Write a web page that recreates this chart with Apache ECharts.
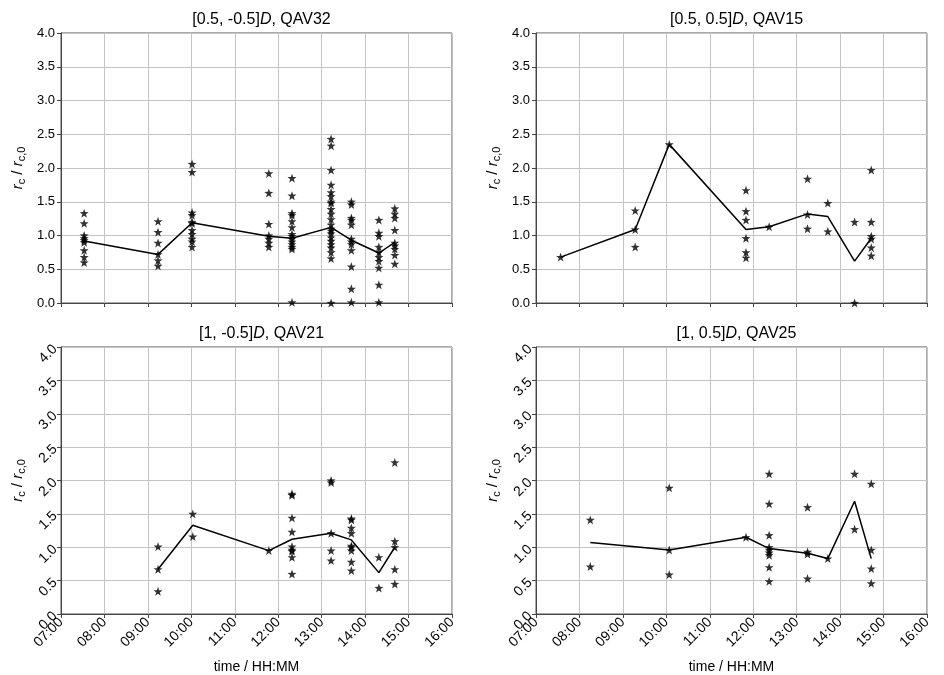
<!DOCTYPE html>
<html>
<head>
<meta charset="utf-8">
<script src="https://cdn.jsdelivr.net/npm/echarts@6/dist/echarts.min.js"></script>
<style>
  html, body { margin: 0; padding: 0; background: #fff; }
  #chart { width: 944px; height: 675px; }
</style>
</head>
<body>
<div id="chart"></div>
<script>
// hour ticks on the time axis
const hourTicks = ['07:00', '08:00', '09:00', '10:00', '11:00', '12:00', '13:00', '14:00', '15:00', '16:00']
const yTicks = [0, 0.5, 1, 1.5, 2, 2.5, 3, 3.5, 4]

// [0.5, -0.5]D, QAV32
const qav32Times = ['07:32', '09:14', '10:01', '11:47', '12:19', '13:13', '13:41', '14:19', '14:41']
const qav32Points = [
  [1.33, 1.18, 1.00, 0.96, 0.93, 0.90, 0.78, 0.68, 0.60],
  [1.21, 1.05, 0.89, 0.72, 0.63, 0.55],
  [2.06, 1.94, 1.34, 1.30, 1.20, 1.18, 1.08, 1.02, 0.95, 0.91, 0.83],
  [1.92, 1.63, 1.17, 1.00, 0.95, 0.89, 0.83],
  [1.85, 1.59, 1.33, 1.30, 1.21, 1.12, 1.02, 0.99, 0.95, 0.91, 0.87, 0.83, 0.80, 0.01],
  [2.43, 2.33, 1.97, 1.75, 1.64, 1.58, 1.50, 1.48, 1.39, 1.32, 1.24, 1.16, 1.10, 1.07, 1.03, 0.97, 0.92, 0.87, 0.82, 0.75, 0.66, 0.0],
  [1.50, 1.46, 1.26, 1.23, 1.16, 0.95, 0.91, 0.87, 0.78, 0.54, 0.21, 0.01],
  [1.23, 1.04, 0.99, 0.83, 0.75, 0.68, 0.62, 0.52, 0.27, 0.01],
  [1.40, 1.32, 1.26, 1.08, 0.89, 0.85, 0.80, 0.71, 0.58]
]
const qav32Line = [0.92, 0.72, 1.19, 0.99, 0.96, 1.12, 0.93, 0.74, 0.90]

// [0.5, 0.5]D, QAV15
const qav15Times = ['07:34', '09:17', '10:04', '11:50', '12:22', '13:15', '13:43', '14:20', '14:43']
const qav15Points = [
  [0.68],
  [1.37, 1.09, 0.83],
  [2.35],
  [1.67, 1.36, 1.23, 0.96, 0.75, 0.67],
  [1.13],
  [1.84, 1.31, 1.10],
  [1.48, 1.06],
  [1.20, 0.0],
  [1.97, 1.20, 0.99, 0.95, 0.82, 0.70]
]
const qav15Line = [0.68, 1.09, 2.35, 1.09, 1.13, 1.32, 1.28, 0.62, 0.96]

// [1, -0.5]D, QAV21
const qav21Times = ['09:14', '10:02', '11:47', '12:19', '13:13', '13:41', '14:19', '14:41']
const qav21Points = [
  [1.01, 0.67, 0.34],
  [1.50, 1.16],
  [0.95],
  [1.80, 1.78, 1.44, 1.23, 1.01, 0.96, 0.94, 0.85, 0.60],
  [2.00, 1.97, 1.21, 0.95, 0.80],
  [1.43, 1.41, 1.29, 1.21, 1.02, 1.00, 0.95, 0.78, 0.65],
  [0.85, 0.39],
  [2.27, 1.09, 1.00, 0.67, 0.45]
]
const qav21Line = [0.67, 1.33, 0.95, 1.12, 1.21, 1.11, 0.62, 1.00]

// [1, 0.5]D, QAV25
const qav25Times = ['08:15', '10:04', '11:50', '12:22', '13:15', '13:43', '14:20', '14:43']
const qav25Points = [
  [1.41, 0.71],
  [1.89, 0.96, 0.59],
  [1.15],
  [2.10, 1.65, 1.18, 1.00, 0.96, 0.92, 0.88, 0.70, 0.49],
  [1.60, 0.93, 0.90, 0.53],
  [0.83],
  [2.10, 1.27],
  [1.95, 0.96, 0.68, 0.46]
]
const qav25Line = [1.07, 0.96, 1.15, 0.98, 0.91, 0.83, 1.69, 0.83]

const titles = [
  ['[0.5, -0.5]', ', QAV32'],
  ['[0.5, 0.5]', ', QAV15'],
  ['[1, -0.5]', ', QAV21'],
  ['[1, 0.5]', ', QAV25']
]

function toHours (t) {
  const [h, m] = t.split(':').map(Number)
  return h + m / 60
}

function fmtHour (v) {
  return String(Math.round(v)).padStart(2, '0') + ':00'
}

const STAR = 'path://M0,-10L2.35,-3.24L9.51,-3.09L3.8,1.24L5.88,8.09L0,4L-5.88,8.09L-3.8,1.24L-9.51,-3.09L-2.35,-3.24Z'
const FONT = 'Liberation Sans, Arial, sans-serif'

const panels = [
  { times: qav32Times, points: qav32Points, line: qav32Line, left: 61, top: 33, bottom: false },
  { times: qav15Times, points: qav15Points, line: qav15Line, left: 536, top: 33, bottom: false },
  { times: qav21Times, points: qav21Points, line: qav21Line, left: 61, top: 347, bottom: true },
  { times: qav25Times, points: qav25Points, line: qav25Line, left: 536, top: 347, bottom: true }
]

const grid = [], xAxis = [], yAxis = [], series = [], title = []

panels.forEach((p, i) => {
  grid.push({
    left: p.left, top: p.top, width: 391, height: 270,
    show: true, borderColor: '#555', borderWidth: 1, backgroundColor: 'transparent'
  })
  title.push({
    text: titles[i][0] + '{i|D}' + titles[i][1],
    left: p.left + 195.5, top: p.top - 26, textAlign: 'center',
    textStyle: {
      fontFamily: FONT, fontSize: 16, fontWeight: 'normal', color: '#000',
      rich: { i: { fontFamily: FONT, fontSize: 16, fontStyle: 'italic', color: '#000' } }
    }
  })
  xAxis.push({
    type: 'value', gridIndex: i, min: 7, max: 16, interval: 1,
    name: p.bottom ? 'time / HH:MM' : '',
    nameLocation: 'middle', nameGap: 46,
    nameTextStyle: { fontFamily: FONT, fontSize: 14, color: '#000' },
    axisLine: { show: true, onZero: false, lineStyle: { color: '#444' } },
    axisTick: { show: true, length: 4, lineStyle: { color: '#444' } },
    axisLabel: {
      show: p.bottom, rotate: 45, fontFamily: FONT, fontSize: 14, color: '#000', margin: 6,
      formatter: fmtHour
    },
    splitLine: { show: true, lineStyle: { color: '#c4c4c4' } }
  })
  yAxis.push({
    type: 'value', gridIndex: i, min: 0, max: 4, interval: 0.5,
    name: '{i|r}{s|c} / {i|r}{s|c,0}',
    nameLocation: 'middle', nameRotate: 90, nameGap: 34,
    nameTextStyle: {
      fontFamily: FONT, fontSize: 15, color: '#000',
      rich: {
        i: { fontFamily: FONT, fontSize: 15, fontStyle: 'italic', color: '#000', lineHeight: 18 },
        s: { fontFamily: FONT, fontSize: 11, color: '#000', verticalAlign: 'bottom', lineHeight: 18, padding: [6, 0, 0, 0] }
      }
    },
    axisLine: { show: true, lineStyle: { color: '#444' } },
    axisTick: { show: true, length: 4, lineStyle: { color: '#444' } },
    axisLabel: {
      rotate: p.bottom ? 45 : 0, fontFamily: FONT, fontSize: p.bottom ? 14 : 13, color: '#000', margin: 6,
      formatter: v => v.toFixed(1)
    },
    splitLine: { show: true, lineStyle: { color: '#c4c4c4' } }
  })

  const pts = []
  p.times.forEach((t, k) => {
    p.points[k].forEach(v => pts.push([toHours(t), v]))
  })
  series.push({
    type: 'scatter', xAxisIndex: i, yAxisIndex: i,
    symbol: STAR, symbolSize: 9,
    itemStyle: { color: '#000' },
    data: pts, z: 3
  })
  series.push({
    type: 'line', xAxisIndex: i, yAxisIndex: i,
    showSymbol: false, symbol: 'none',
    lineStyle: { color: '#000', width: 1.5 },
    data: p.times.map((t, k) => [toHours(t), p.line[k]]), z: 4
  })
})

const chart = echarts.init(document.getElementById('chart'))
chart.setOption({
  animation: false,
  backgroundColor: '#fff',
  title, grid, xAxis, yAxis, series
})
</script>
</body>
</html>
